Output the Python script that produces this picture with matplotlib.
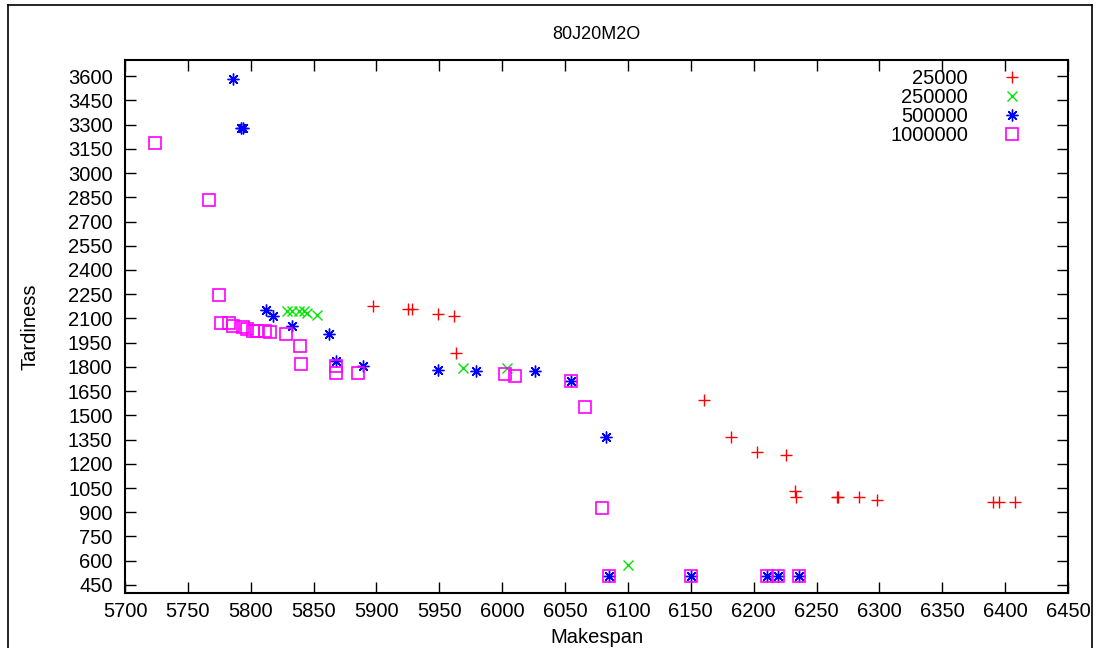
import matplotlib
matplotlib.use("Agg")
import matplotlib.pyplot as plt
from matplotlib.lines import Line2D
import numpy as np

plt.rcParams['font.family'] = ['Liberation Sans', 'DejaVu Sans']

title = "80J20M2O"
xlabel = "Makespan"
ylabel = "Tardiness"
labels = ["25000", "250000", "500000", "1000000"]

s25k_x = [5897.5, 5925, 5928, 5949, 5962, 5963, 6160.5, 6182, 6202.5, 6226,
          6233, 6234, 6266.5, 6267, 6284, 6298, 6390, 6395, 6408]
s25k_y = [2179, 2161, 2161, 2129, 2117, 1888, 1597, 1365, 1276, 1256,
          1033, 997, 997, 993, 993, 975, 966, 966, 962]

s250k_x = [5829, 5833, 5838, 5842, 5844.5, 5852.5, 5968.5, 6003.5, 6100]
s250k_y = [2148, 2148, 2148, 2148, 2134, 2119, 1793, 1793, 574]

s500k_x = [5786, 5792, 5794, 5812, 5818, 5832.5, 5862.5, 5868, 5889, 5949,
           5979, 6026, 6055, 6082.5, 6085, 6150, 6211, 6219, 6236]
s500k_y = [3580, 3276, 3276, 2155, 2113, 2055, 2004, 1838, 1803, 1778,
           1776, 1776, 1714, 1363, 508, 508, 508, 508, 508]

s1m_x = [5724, 5767, 5775, 5776, 5783, 5786, 5794, 5797, 5802, 5805, 5811,
         5815, 5828, 5839, 5840, 5868, 5868, 5885, 6002, 6010, 6055, 6066,
         6079, 6085, 6150, 6211, 6219, 6236]
s1m_y = [3185, 2834, 2243, 2072, 2072, 2055, 2045, 2032, 2024, 2024, 2024,
         2015, 2006, 1932, 1818, 1807, 1762, 1762, 1758, 1741, 1714, 1550,
         925, 508, 508, 508, 508, 508]

xticks = list(range(5700, 6451, 50))
yticks = list(range(450, 3601, 150))

fig = plt.figure(figsize=(11, 6.48), dpi=100)
ax = fig.add_axes([125/1100, 1-593/648, (1068-125)/1100, (593-60)/648])

ms = 7.5
ax.plot(s25k_x, s25k_y, linestyle='none', marker='+', color='#ff0000',
        markersize=ms+1, markeredgewidth=1.0, label=labels[0])
ax.plot(s250k_x, s250k_y, linestyle='none', marker='x', color='#00e600',
        markersize=ms, markeredgewidth=1.0, label=labels[1])
ax.plot(s500k_x, s500k_y, linestyle='none', marker=(8, 2, 0), color='#0000ff',
        markersize=ms+1, markeredgewidth=1.0, label=labels[2])
ax.plot(s1m_x, s1m_y, linestyle='none', marker='s', markerfacecolor='none',
        markeredgecolor='#ff00ff', markersize=ms+1, markeredgewidth=1.2, label=labels[3])

fs = 14.5
ax.set_xlim(5700, 6450)
ax.set_ylim(400, 3700)
ax.set_xticks(xticks)
ax.set_yticks(yticks)
ax.tick_params(direction='in', length=8, width=1.0, top=True, right=True,
               labelsize=fs, colors='black')
ax.tick_params(axis='x', pad=6.5)
ax.tick_params(axis='y', pad=9)
for sp in ax.spines.values():
    sp.set_linewidth(1.5)

ax.set_title(title, fontsize=13, pad=15)
ax.set_xlabel(xlabel, fontsize=fs, labelpad=5)
ax.set_ylabel(ylabel, fontsize=fs, labelpad=20)

leg = ax.legend(loc='upper right', bbox_to_anchor=(0.972, 1.0 + 5/533),
                frameon=False, markerfirst=False, fontsize=fs,
                handlelength=1.5, handletextpad=1.45, labelspacing=0.0,
                borderpad=0.2)
for t in leg.get_texts():
    t.set_ha('right')

# figure border
fig.add_artist(Line2D([8/1100, 8/1100], [0, 1-5/648], transform=fig.transFigure, color='black', lw=1.2))
fig.add_artist(Line2D([8/1100, 1092/1100], [1-5/648, 1-5/648], transform=fig.transFigure, color='black', lw=1.2))
fig.add_artist(Line2D([1092/1100, 1092/1100], [0, 1-5/648], transform=fig.transFigure, color='black', lw=1.2))

fig.savefig("out.png", dpi=100)
